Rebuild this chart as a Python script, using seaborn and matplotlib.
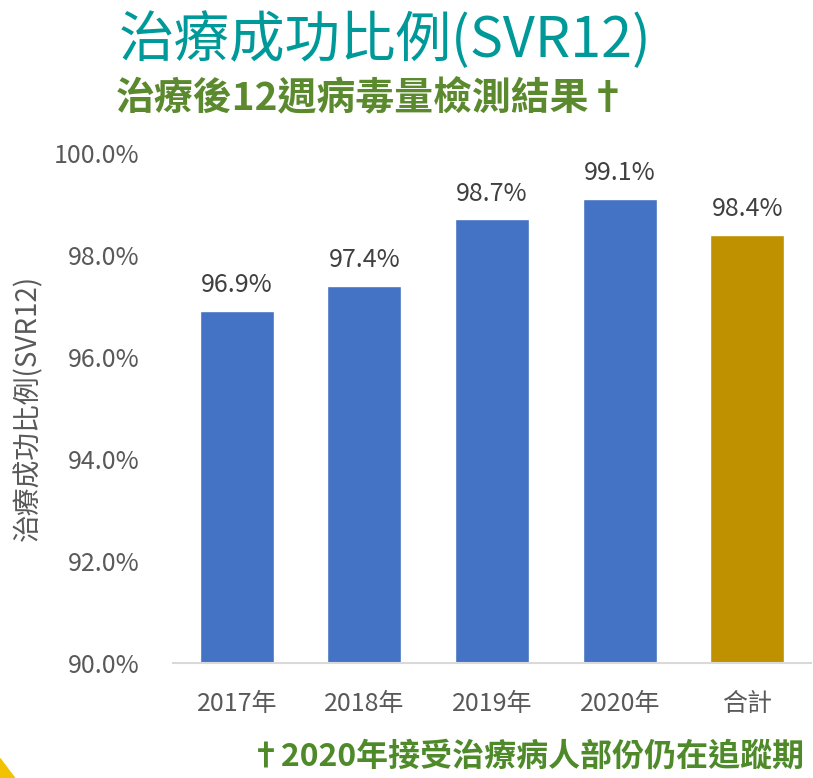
import matplotlib
matplotlib.use('Agg')
import matplotlib.pyplot as plt
import matplotlib.patches as mpatches
import pandas as pd
import seaborn as sns

categories = ['2017年', '2018年', '2019年', '2020年', '合計']
svr_rates = [96.9, 97.4, 98.7, 99.1, 98.4]
bar_colors = ['#4472C4', '#4472C4', '#4472C4', '#4472C4', '#BF9000']
y_ticks = [90, 92, 94, 96, 98, 100]

sns.set_style('white')
plt.rcParams['font.family'] = ['Noto Sans CJK TC', 'DejaVu Sans']

df = pd.DataFrame({'cat': categories, 'rate': svr_rates})

fig = plt.figure(figsize=(8.13, 7.78), dpi=100)
ax = fig.add_axes([0.2128, 0.1478, 0.785, 0.6555])

sns.barplot(data=df, x='cat', y='rate', hue='cat', palette=bar_colors,
            width=0.58, legend=False, ax=ax, saturation=1)

ax.set_ylim(90, 100)
ax.set_yticks(y_ticks)
ax.set_yticklabels([f'{t:.1f}%' for t in y_ticks])
ax.set_xlabel('')
ax.set_ylabel('治療成功比例(SVR12)', fontsize=20, color='#595959', labelpad=8)
ax.tick_params(axis='both', length=0, labelsize=18, colors='#595959')
ax.tick_params(axis='x', pad=20)
ax.tick_params(axis='y', pad=24)

for s in ['top', 'right', 'left']:
    ax.spines[s].set_visible(False)
ax.spines['bottom'].set_color('#D9D9D9')
ax.spines['bottom'].set_linewidth(1.5)

for i, v in enumerate(svr_rates):
    ax.text(i, v + 0.25, f'{v:.1f}%', ha='center', va='bottom', fontsize=18, color='#404040')

fig.text(0.474, 0.947, '治療成功比例(SVR12)', ha='center', va='center',
         fontsize=40, color='#009999')
fig.text(0.142, 0.875, '治療後12週病毒量檢測結果†', ha='left', va='center',
         fontsize=28, color='#5B8A2E', fontweight='bold')
fig.text(0.3075, 0.027, '†2020年接受治療病人部份仍在追蹤期', ha='left', va='center',
         fontsize=23, color='#4F8A2A', fontweight='bold')

# small yellow corner mark
fig.patches.append(mpatches.Polygon([[0, 0], [0.018, 0], [0, 0.025]], closed=True,
                                    transform=fig.transFigure, color='#F2C200'))

fig.savefig('out.png', dpi=100)
